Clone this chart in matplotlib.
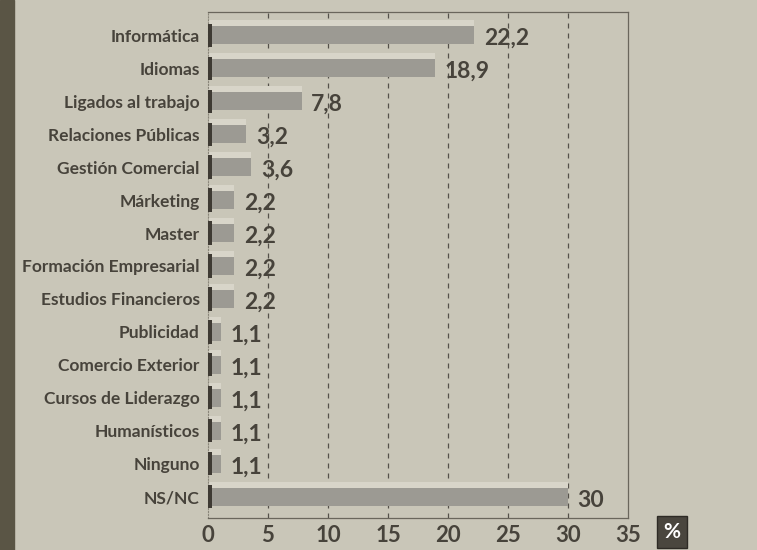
import matplotlib.pyplot as plt
from matplotlib.patches import Rectangle

categorias = ["Informática", "Idiomas", "Ligados al trabajo", "Relaciones Públicas",
              "Gestión Comercial", "Márketing", "Master", "Formación Empresarial",
              "Estudios Financieros", "Publicidad", "Comercio Exterior",
              "Cursos de Liderazgo", "Humanísticos", "Ninguno", "NS/NC"]
valores = [22.2, 18.9, 7.8, 3.2, 3.6, 2.2, 2.2, 2.2, 2.2, 1.1, 1.1, 1.1, 1.1, 1.1, 30]
etiquetas = ["22,2", "18,9", "7,8", "3,2", "3,6", "2,2", "2,2", "2,2", "2,2",
             "1,1", "1,1", "1,1", "1,1", "1,1", "30"]
ticks = [0, 5, 10, 15, 20, 25, 30, 35]

fuente = ["Lato", "DejaVu Sans"]
fondo = "#c9c6b8"
texto = "#47433b"

fig = plt.figure(figsize=(7.57, 5.5), dpi=100, facecolor=fondo)
# franja oscura a la izquierda
fig.patches.append(Rectangle((0, 0), 14 / 757, 1, transform=fig.transFigure,
                             color="#5a5545", zorder=0))

ax = fig.add_axes([208 / 757, 32 / 550, 420 / 757, 506 / 550])
ax.set_facecolor(fondo)

y = list(range(len(categorias)))
# cara superior clara, barra principal y borde oscuro
ax.barh([yi - 0.37 for yi in y], valores, height=0.19, color="#d8d5c9", zorder=2)
ax.barh(y, valores, height=0.55, color="#9c9a93", zorder=2)
ax.barh(y, [0.35] * len(y), height=0.7, color="#3e3a33", zorder=3)

for yi, v, t in zip(y, valores, etiquetas):
    ax.text(v + 0.8, yi + 0.1, t, va="center", ha="left", fontsize=16.5,
            fontweight="bold", family=fuente, color=texto)

ax.set_xlim(0, 35)
ax.set_ylim(14.64, -0.70)
ax.set_yticks(y)
ax.set_yticklabels(categorias, fontsize=12.5, fontweight="bold",
                   family=fuente, color=texto)
ax.set_xticks(ticks)
ax.set_xticklabels([str(t) for t in ticks], fontsize=16, fontweight="bold",
                   family=fuente, color=texto)
ax.tick_params(axis="y", length=0, pad=6)
ax.tick_params(axis="x", length=0, pad=5)

for t in ticks[1:-1]:
    ax.axvline(t, color="#55514a", lw=0.9, ls=(0, (4, 4)), zorder=1)

for s in ["top", "right", "bottom"]:
    ax.spines[s].set_color("#6a665c")
    ax.spines[s].set_linewidth(0.9)
ax.spines["left"].set_color("#8a867a")
ax.spines["left"].set_linestyle(":")

# caja del porcentaje
fig.text(672 / 757, 1 - 532 / 550, "%", ha="center", va="center", fontsize=15,
         fontweight="bold", family=fuente, color="white",
         bbox=dict(boxstyle="square,pad=0.3", fc="#4a463e", ec="#2e2b25"))

fig.savefig("out.png", dpi=100, facecolor=fondo)
